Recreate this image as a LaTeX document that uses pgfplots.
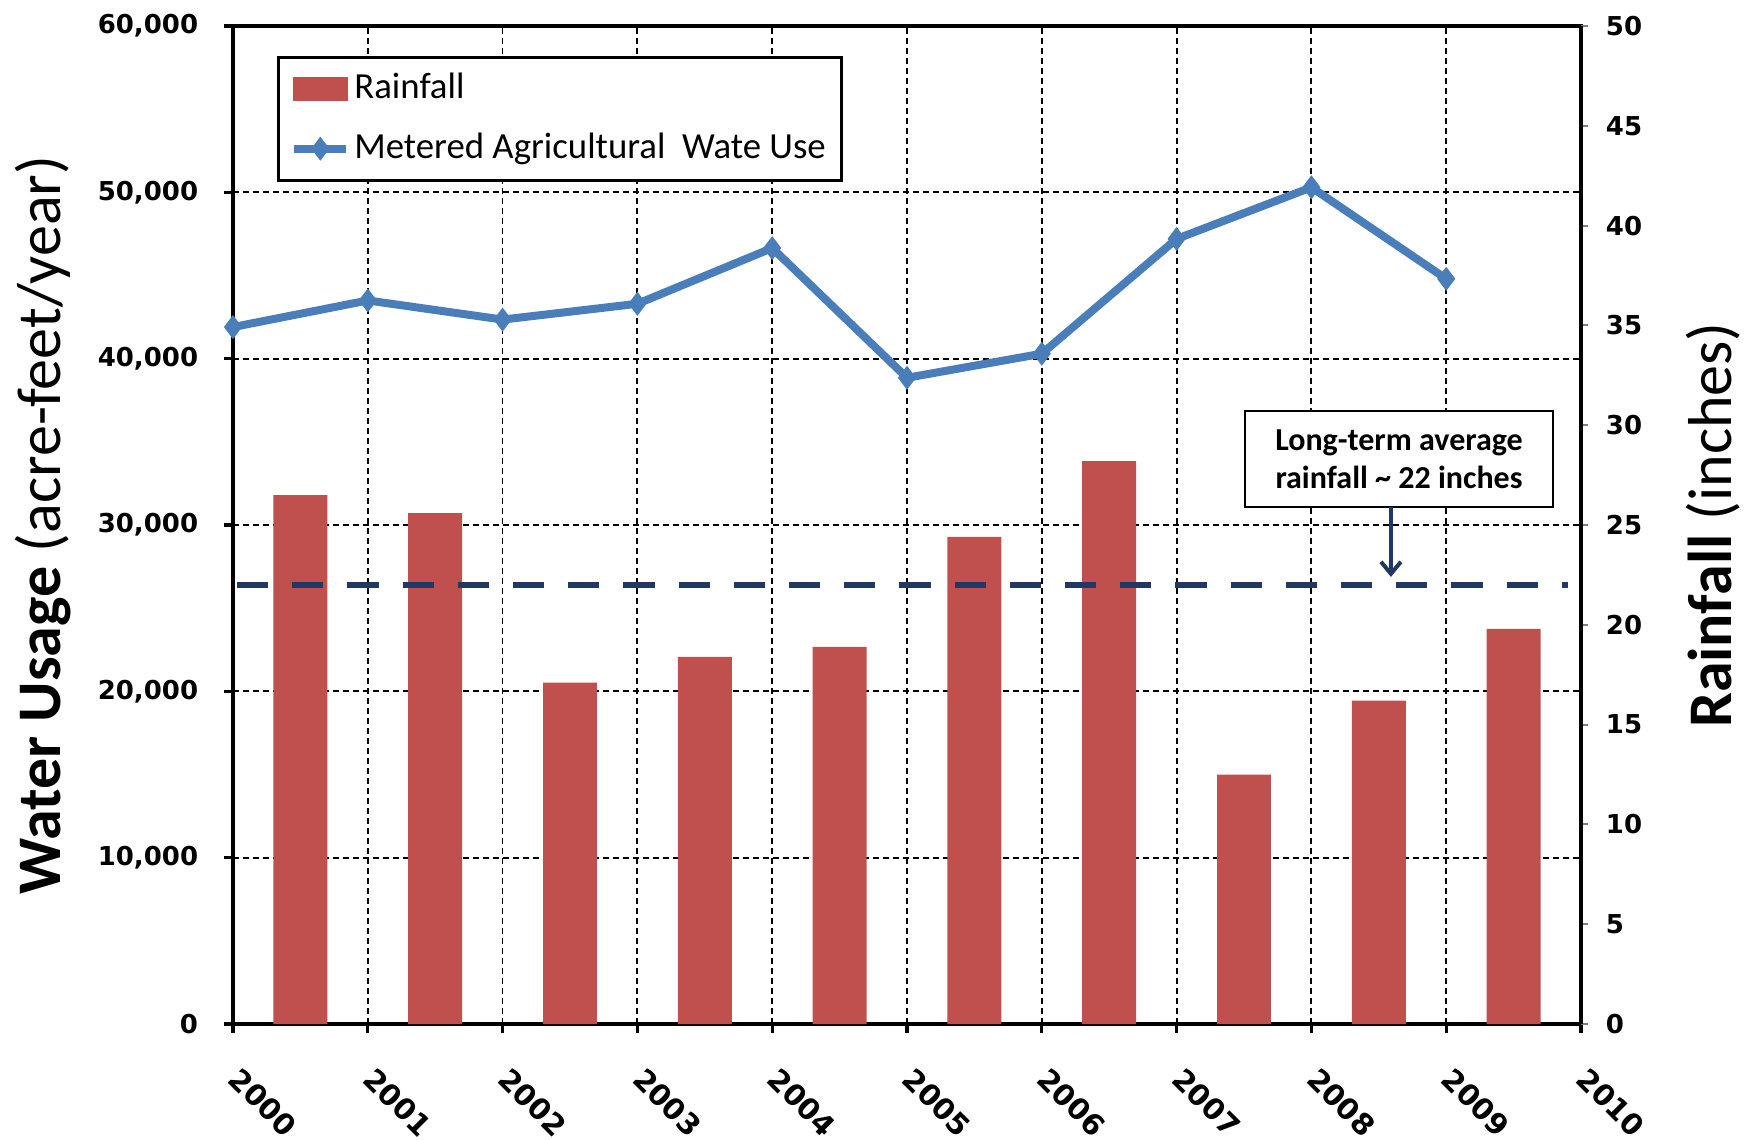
\documentclass[border=0pt]{standalone}
\usepackage{pgfplots}
\pgfplotsset{compat=1.18}
\usepackage{fontspec}
\setmainfont{Carlito}
\newfontfamily\tickfont{DejaVu Sans}
\usetikzlibrary{arrows.meta}
\definecolor{barred}{RGB}{192,80,77}
\definecolor{lineblue}{RGB}{74,126,187}
\definecolor{navyline}{RGB}{31,56,100}
\pgfplotsset{
  linelegend/.style={legend image code/.code={\draw[mark repeat=2,mark phase=2,##1] plot coordinates {(0pt,0pt) (6.5pt,0pt) (13pt,0pt)};}},
  barlegend/.style={legend image code/.code={\fill[barred] (0pt,-2.6pt) rectangle (13pt,2.6pt);}},
}
\begin{document}
\begin{tikzpicture}
\begin{axis}[
  at={(0,0)}, anchor=south west,
  scale only axis, width=337pt, height=249.5pt,
  xmin=2000, xmax=2010, ymin=0, ymax=60000,
  xtick={2000,2001,...,2010},
  xticklabels={2000,2001,2002,2003,2004,2005,2006,2007,2008,2009,2010},
  ytick={0,10000,...,60000},
  xtick pos=bottom, ytick pos=left, tick align=outside,
  major tick length=2.2pt,
  grid=major,
  major grid style={black, line width=0.45pt, dash pattern=on 1.5pt off 1pt},
  axis line style={line width=1pt},
  every tick/.style={black, line width=0.8pt},
  scaled y ticks=false,
  /pgf/number format/assume math mode=true,
  /pgf/number format/1000 sep={,},
  tick label style={font=\tickfont\bfseries\fontsize{6.5}{7}\selectfont},
  yticklabel style={xshift=-3pt},
  xticklabel style={font=\tickfont\bfseries\fontsize{7.3}{8}\selectfont, xshift=-2.2pt, yshift=-7.7pt, rotate=-45, anchor=west},
  ylabel={\textbf{Water Usage} (acre-feet/year)},
  ylabel style={at={(axis description cs:-0.141,0.5)}, anchor=center, font=\fontsize{15.5}{18}\selectfont},
  legend style={at={(axis description cs:0.0326,0.97)}, anchor=north west, draw=black, line width=0.7pt,
    font=\fontsize{9.2}{11}\selectfont, row sep=5pt, inner xsep=3pt, inner ysep=3pt,
    nodes={inner sep=1pt}},
  legend cell align=left,
]
\addlegendimage{barlegend}
\addlegendentry{Rainfall}
\addplot[lineblue, line width=2pt, mark=diamond*, mark size=2.6pt,
  mark options={fill=lineblue, draw=lineblue, line width=0.5pt}, linelegend]
coordinates {
(2000,41900) (2001,43500) (2002,42350) (2003,43300) (2004,46650)
(2005,38850) (2006,40300) (2007,47200) (2008,50300) (2009,44800)
};
\addlegendentry{Metered Agricultural\ \ Wate Use}
\end{axis}
\begin{axis}[
  at={(0,0)}, anchor=south west,
  scale only axis, width=337pt, height=249.5pt,
  xmin=2000, xmax=2010, ymin=0, ymax=50,
  axis x line=none, axis y line*=right,
  ytick={0,5,...,50}, tick align=outside,
  major tick length=1.7pt,
  every tick/.style={gray, line width=0.5pt},
  y axis line style={line width=1pt},
  /pgf/number format/assume math mode=true,
  tick label style={font=\tickfont\bfseries\fontsize{6.5}{7}\selectfont},
  yticklabel style={xshift=1pt},
  ylabel={\textbf{Rainfall} (inches)},
  ylabel style={at={(axis description cs:1.098,0.5)}, anchor=center, font=\fontsize{15.5}{18}\selectfont},
  clip=false,
]
\addplot[ybar, bar width=0.4, fill=barred, draw=none, bar shift=0pt] coordinates {
(2000.5,26.5) (2001.5,25.6) (2002.5,17.1) (2003.5,18.4) (2004.5,18.9)
(2005.5,24.4) (2006.5,28.2) (2007.5,12.5) (2008.5,16.2) (2009.5,19.8)
};
\addplot[navyline, line width=1.4pt, dash pattern=on 7.8pt off 6pt] coordinates {(2000.03,22) (2009.9,22)};
\node[draw=black, line width=0.6pt, fill=white, font=\bfseries\fontsize{8}{9.3}\selectfont, align=center,
  minimum width=77pt, minimum height=24pt, inner sep=1pt] at (axis cs:2008.65,28.3)
  {Long-term average\\rainfall \textasciitilde{} 22 inches};
\draw[navyline, line width=1pt, -{Straight Barb[length=3pt,width=5pt]}] (axis cs:2008.59,25.9) -- (axis cs:2008.59,22.4);
\end{axis}
\pgfresetboundingbox
\path[use as bounding box] (-58.25pt,-28.75pt) rectangle (381.25pt,256pt);
\end{tikzpicture}
\end{document}
